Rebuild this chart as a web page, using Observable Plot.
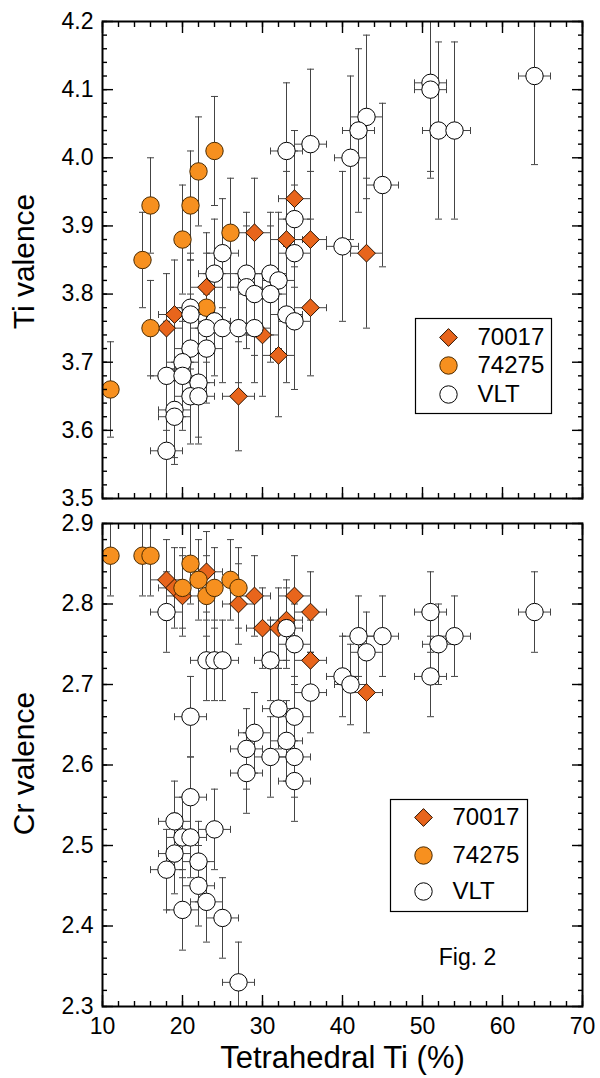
<!DOCTYPE html>
<html><head><meta charset="utf-8">
<script src="https://cdn.jsdelivr.net/npm/d3@7"></script>
<script src="https://cdn.jsdelivr.net/npm/@observablehq/plot@0.6"></script>
<style>
html,body{margin:0;padding:0;background:#fff;}
#chart svg{display:block;}
</style></head><body><div id="chart"></div>
<script>
// ---- data ----
const seriesNames = ["70017", "74275", "VLT"];
const xTicks = [10, 20, 30, 40, 50, 60, 70];
const tiTicks = [3.5, 3.6, 3.7, 3.8, 3.9, 4.0, 4.1, 4.2];
const crTicks = [2.3, 2.4, 2.5, 2.6, 2.7, 2.8, 2.9];
const xErr = [2, 0, 2]; // ± tetrahedral Ti (%) per series

// Ti valence: [tetrahedral Ti %, valence, ± valence]
const ti70017 = [
  [18, 3.75, 0.08], [19, 3.77, 0.08], [23, 3.81, 0.08], [27, 3.65, 0.08],
  [29, 3.89, 0.08], [30, 3.74, 0.09], [32, 3.71, 0.09], [33, 3.88, 0.10],
  [34, 3.94, 0.10], [36, 3.88, 0.10], [36, 3.78, 0.10], [43, 3.86, 0.11]
];
const ti74275 = [
  [11, 3.66, 0.07], [15, 3.85, 0.07], [16, 3.93, 0.07], [16, 3.75, 0.07],
  [20, 3.88, 0.08], [21, 3.93, 0.08], [22, 3.98, 0.08], [24, 4.01, 0.08],
  [26, 3.89, 0.08], [23, 3.78, 0.08]
];
const tiVLT = [
  [25, 3.86, 0.08], [24, 3.83, 0.08], [28, 3.83, 0.09], [31, 3.83, 0.09],
  [32, 3.82, 0.10], [28, 3.81, 0.09], [29, 3.80, 0.09], [31, 3.80, 0.10],
  [33, 3.77, 0.10], [34, 3.76, 0.10], [21, 3.78, 0.08], [21, 3.77, 0.08],
  [24, 3.76, 0.08], [23, 3.75, 0.08], [25, 3.75, 0.08], [27, 3.75, 0.08],
  [29, 3.75, 0.08], [21, 3.72, 0.08], [23, 3.72, 0.08], [20, 3.70, 0.08],
  [18, 3.68, 0.08], [20, 3.68, 0.08], [22, 3.67, 0.08], [21, 3.65, 0.07],
  [22, 3.65, 0.07], [19, 3.63, 0.07], [19, 3.62, 0.07], [18, 3.57, 0.10],
  [40, 3.87, 0.11], [34, 3.86, 0.10], [33, 4.01, 0.10], [36, 4.02, 0.11],
  [41, 4.00, 0.12], [34, 3.91, 0.10], [51, 4.11, 0.13], [51, 4.10, 0.13],
  [52, 4.04, 0.13], [54, 4.04, 0.13], [64, 4.12, 0.13], [43, 4.06, 0.12],
  [42, 4.04, 0.12], [45, 3.96, 0.12]
];

// Cr valence: [tetrahedral Ti %, valence, ± valence]
const cr70017 = [
  [18, 2.83, 0.05], [19, 2.82, 0.05], [20, 2.81, 0.05], [23, 2.84, 0.05],
  [27, 2.80, 0.05], [29, 2.81, 0.05], [30, 2.77, 0.05], [32, 2.77, 0.05],
  [33, 2.78, 0.05], [34, 2.81, 0.05], [36, 2.79, 0.05], [36, 2.73, 0.05],
  [43, 2.69, 0.05]
];
const cr74275 = [
  [11, 2.86, 0.05], [15, 2.86, 0.05], [16, 2.86, 0.05], [20, 2.82, 0.05],
  [21, 2.85, 0.05], [22, 2.83, 0.05], [23, 2.81, 0.05], [24, 2.82, 0.05],
  [26, 2.83, 0.05], [27, 2.82, 0.05]
];
const crVLT = [
  [18, 2.79, 0.05], [23, 2.73, 0.05], [24, 2.73, 0.05], [25, 2.73, 0.05],
  [31, 2.73, 0.05], [33, 2.77, 0.05], [34, 2.75, 0.05], [36, 2.69, 0.05],
  [40, 2.71, 0.05], [21, 2.66, 0.05], [32, 2.67, 0.05], [34, 2.66, 0.05],
  [29, 2.64, 0.05], [33, 2.63, 0.05], [28, 2.62, 0.05], [31, 2.61, 0.05],
  [34, 2.61, 0.05], [28, 2.59, 0.05], [34, 2.58, 0.05], [21, 2.56, 0.05],
  [19, 2.53, 0.05], [24, 2.52, 0.05], [20, 2.51, 0.05], [21, 2.51, 0.05],
  [19, 2.49, 0.05], [22, 2.48, 0.05], [18, 2.47, 0.05], [22, 2.45, 0.05],
  [23, 2.43, 0.05], [20, 2.42, 0.05], [25, 2.41, 0.05], [27, 2.33, 0.05],
  [42, 2.76, 0.05], [45, 2.76, 0.05], [43, 2.74, 0.05], [41, 2.70, 0.05],
  [51, 2.79, 0.05], [52, 2.75, 0.05], [54, 2.76, 0.05], [51, 2.71, 0.05],
  [64, 2.79, 0.05]
];

// ---- styles ----
const FONT = "'Liberation Sans', Arial, Helvetica, sans-serif";
const seriesSymbol = ["diamond2", "circle", "circle"];
const seriesFill = ["#E8651C", "#F7901F", "#FFFFFF"];
const seriesStroke = ["#2a1200", "#4a2a00", "#000000"];
const seriesR = [8, 8.7, 8.7];
const barColor = "#444";
const capH = {draw(ctx) { ctx.moveTo(-3.5, 0); ctx.lineTo(3.5, 0); }};
const capV = {draw(ctx) { ctx.moveTo(0, -3.5); ctx.lineTo(0, 3.5); }};
const xMinor = d3.range(10, 70.001, 2);

function panel(cfg) {
  const {series, yDomain, yTicks, height, marginTop, marginBottom, yTitle, yTitleDy,
         showXLabels, legend, extras = []} = cfg;
  const yMinor = d3.range(Math.round(yDomain[0] * 50), Math.round(yDomain[1] * 50) + 1).map(v => v / 50);
  const pts = series.flatMap((arr, s) => arr.map(([x, y, e]) => ({x, y, e, xe: xErr[s], s})));
  const ptsX = pts.filter(d => d.xe > 0);
  const marks = [];
  // error bars
  marks.push(
    Plot.ruleX(pts, {x: "x", y1: d => d.y - d.e, y2: d => d.y + d.e, stroke: barColor, strokeWidth: 1, clip: true}),
    Plot.dot(pts, {x: "x", y: d => d.y + d.e, symbol: capH, fill: "none", stroke: barColor, strokeWidth: 1, clip: true}),
    Plot.dot(pts, {x: "x", y: d => d.y - d.e, symbol: capH, fill: "none", stroke: barColor, strokeWidth: 1, clip: true}),
    Plot.ruleY(ptsX, {y: "y", x1: d => d.x - d.xe, x2: d => d.x + d.xe, stroke: barColor, strokeWidth: 1, clip: true}),
    Plot.dot(ptsX, {x: d => d.x - d.xe, y: "y", symbol: capV, fill: "none", stroke: barColor, strokeWidth: 1, clip: true}),
    Plot.dot(ptsX, {x: d => d.x + d.xe, y: "y", symbol: capV, fill: "none", stroke: barColor, strokeWidth: 1, clip: true})
  );
  // points
  for (const s of [0, 1, 2]) {
    marks.push(Plot.dot(series[s], {
      x: d => d[0], y: d => d[1], symbol: seriesSymbol[s], r: seriesR[s],
      fill: seriesFill[s], stroke: seriesStroke[s], strokeWidth: 1, clip: true
    }));
  }
  // frame
  marks.push(Plot.frame({stroke: "#000", strokeWidth: 2}));
  // inward ticks on four sides
  for (const anchor of ["bottom", "top"]) {
    marks.push(Plot.axisX({anchor, ticks: xTicks, tickSize: -11, fill: "none", stroke: "#000", strokeWidth: 1.4}));
    marks.push(Plot.axisX({anchor, ticks: xMinor, tickSize: -5, fill: "none", stroke: "#000", strokeWidth: 1.4}));
  }
  for (const anchor of ["left", "right"]) {
    marks.push(Plot.axisY({anchor, ticks: yTicks, tickSize: -11, fill: "none", stroke: "#000", strokeWidth: 1.4}));
    marks.push(Plot.axisY({anchor, ticks: yMinor, tickSize: -5, fill: "none", stroke: "#000", strokeWidth: 1.4}));
  }
  // tick labels
  marks.push(Plot.axisY({anchor: "left", ticks: yTicks, tickSize: 0, tickPadding: 9, tickFormat: d3.format(".1f"),
    fontSize: 23, label: null, fill: "#000"}));
  if (showXLabels) {
    marks.push(Plot.axisX({anchor: "bottom", ticks: xTicks, tickSize: 0, tickPadding: 11, tickFormat: d3.format("d"),
      fontSize: 23, label: null, fill: "#000"}));
  }
  // y title
  marks.push(Plot.text([yTitle], {text: d => d, frameAnchor: "top-left", dx: -78, dy: yTitleDy, rotate: -90,
    fontSize: 30, fill: "#000", textAnchor: "middle", lineAnchor: "middle"}));
  // legend
  marks.push(Plot.frame({insetLeft: legend.box[0], insetTop: legend.box[1], insetRight: legend.box[2], insetBottom: legend.box[3],
    stroke: "#000", strokeWidth: 1.2, fill: "#fff"}));
  seriesNames.forEach((name, s) => {
    marks.push(Plot.dot([name], {frameAnchor: "top-left", dx: legend.symX, dy: legend.rows[s], symbol: seriesSymbol[s],
      r: seriesR[s], fill: seriesFill[s], stroke: seriesStroke[s], strokeWidth: 1}));
    marks.push(Plot.text([name], {text: d => d, frameAnchor: "top-left", dx: legend.textX, dy: legend.rows[s],
      textAnchor: "start", lineAnchor: "middle", fontSize: 24, fill: "#000"}));
  });
  marks.push(...extras);
  return Plot.plot({
    width: 600, height, marginLeft: 102, marginRight: 18, marginTop, marginBottom,
    style: {fontFamily: FONT, background: "#fff", color: "#000"},
    x: {domain: [10, 70]},
    y: {domain: yDomain},
    marks
  });
}

const topPanel = panel({
  series: [ti70017, ti74275, tiVLT], yDomain: [3.5, 4.2], yTicks: tiTicks,
  height: 510, marginTop: 21, marginBottom: 12, yTitle: "Ti valence", yTitleDy: 240,
  showXLabels: false,
  legend: {box: [313, 297, 31, 85], symX: 346, textX: 375, rows: [316, 344, 373]}
});
const bottomPanel = panel({
  series: [cr70017, cr74275, crVLT], yDomain: [2.3, 2.9], yTicks: crTicks,
  height: 568, marginTop: 13, marginBottom: 72, yTitle: "Cr valence", yTitleDy: 240,
  showXLabels: true,
  legend: {box: [288, 276, 55, 95], symX: 321, textX: 350, rows: [294, 332, 368]},
  extras: [
    Plot.text(["Fig. 2"], {text: d => d, frameAnchor: "top-left", dx: 365, dy: 434, textAnchor: "middle", lineAnchor: "middle", fontSize: 23, fill: "#000"}),
    Plot.text(["Tetrahedral Ti (%)"], {text: d => d, frameAnchor: "top-left", dx: 240, dy: 535, textAnchor: "middle", lineAnchor: "middle", fontSize: 31, fill: "#000"})
  ]
});
document.getElementById("chart").append(topPanel, bottomPanel);
</script></body></html>
